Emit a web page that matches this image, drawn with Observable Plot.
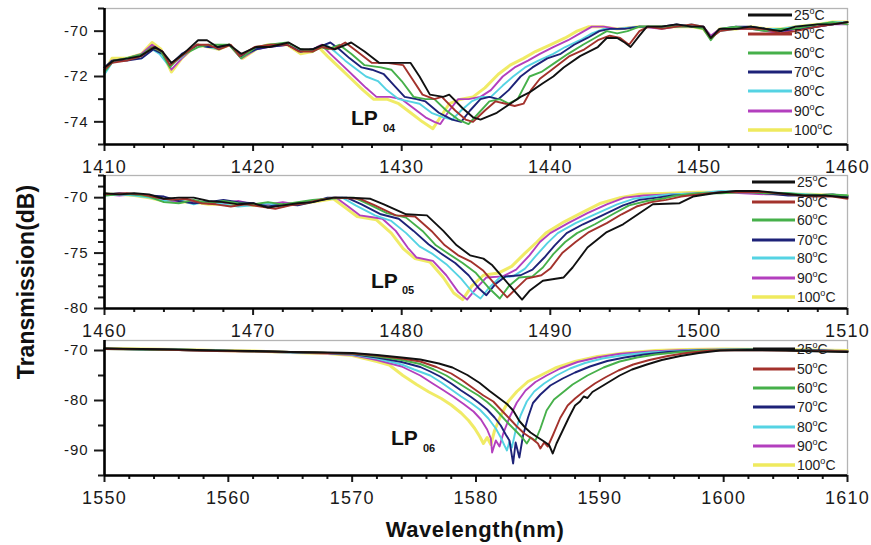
<!DOCTYPE html>
<html>
<head>
<meta charset="utf-8">
<script src="https://cdn.jsdelivr.net/npm/d3@7"></script>
<script src="https://cdn.jsdelivr.net/npm/@observablehq/plot@0.6"></script>
<style>
  html, body { margin: 0; padding: 0; background: #fff; }
  #chart { position: relative; width: 871px; height: 545px; background: #fff; overflow: hidden; font-family: "Liberation Sans", Arial, sans-serif; }
  #chart > svg { position: absolute; left: 0; }
  g[aria-label="x-axis tick label"] text { letter-spacing: 1.2px; }
  g[aria-label="y-axis tick label"] text { letter-spacing: 0.9px; }
</style>
</head>
<body>
<div id="chart"></div>
<script>
// ---------- series labels & colours ----------
const temps = ["25", "50", "60", "70", "80", "90", "100"];
const colors = ["#111111", "#a3322c", "#46b04a", "#1d2278", "#55d3e3", "#b33fbe", "#efea5e"];

// ---------- LP04 panel (1410–1460 nm) ----------
const p1_25 = [[1410,-71.6],[1410.6,-71.3],[1411.6,-71.2],[1412.4,-71.1],[1413.4,-70.7],[1413.9,-70.9],[1414.5,-71.4],[1415.3,-71.0],[1416.3,-70.4],[1416.9,-70.4],[1417.6,-70.7],[1418.4,-70.6],[1419.2,-71.0],[1420.2,-70.7],[1421.1,-70.7],[1422.4,-70.5],[1423.2,-70.8],[1424.0,-70.8],[1424.7,-70.6],[1425.5,-70.8],[1426.6,-70.5],[1427.5,-70.9],[1428.5,-71.4],[1429.6,-71.4],[1430.6,-71.4],[1431.2,-72.0],[1431.9,-72.8],[1432.8,-72.9],[1433.2,-72.8],[1434.1,-73.4],[1434.8,-73.8],[1435.3,-73.9],[1436.4,-73.6],[1437.3,-73.2],[1438.0,-72.9],[1438.6,-72.7],[1439.5,-72.3],[1440.2,-72.0],[1440.9,-71.6],[1442.0,-71.1],[1443.2,-70.7],[1443.8,-70.3],[1444.5,-70.3],[1445.0,-70.5],[1445.4,-70.7],[1446.0,-70.2],[1446.5,-69.8],[1447.5,-69.8],[1448.5,-69.7],[1449.5,-69.8],[1450.3,-69.8],[1450.8,-70.3],[1451.4,-69.9],[1452.5,-69.9],[1453.5,-69.8],[1454.5,-69.9],[1455.5,-70.0],[1456.5,-69.8],[1458,-69.7],[1459,-69.7],[1460,-69.6]];
const p1_50 = [[1410,-71.7],[1410.5,-71.4],[1411.5,-71.3],[1412.5,-71.1],[1413.3,-70.7],[1413.9,-70.9],[1414.4,-71.5],[1415.2,-71.1],[1416.2,-70.6],[1417,-70.6],[1417.7,-70.8],[1418.5,-70.6],[1419.1,-71.1],[1420.1,-70.7],[1421.2,-70.6],[1422.3,-70.6],[1423.1,-70.9],[1424.0,-70.9],[1424.6,-70.7],[1425.4,-70.8],[1426.2,-70.5],[1427.0,-70.9],[1428.0,-71.4],[1429.0,-71.4],[1430.1,-71.5],[1430.7,-72.1],[1431.4,-72.8],[1432.2,-73.0],[1432.7,-72.9],[1433.6,-73.5],[1434.3,-73.9],[1434.8,-74.0],[1435.6,-73.5],[1436.3,-73.1],[1437.0,-73.2],[1437.6,-73.3],[1438.2,-73.2],[1438.7,-72.6],[1439.3,-72.1],[1440.1,-71.7],[1441.3,-71.1],[1442.3,-70.8],[1443.2,-70.4],[1444.0,-70.2],[1444.7,-70.3],[1445.3,-70.6],[1446.0,-70.0],[1446.6,-69.8],[1447.5,-69.9],[1448.5,-69.8],[1449.5,-69.7],[1450.3,-69.8],[1450.8,-70.3],[1451.4,-70.0],[1452.5,-69.9],[1453.5,-69.9],[1454.5,-69.9],[1455.5,-70.1],[1456.5,-70.0],[1458,-69.8],[1459,-69.7],[1460,-69.6]];
const p1_60 = [[1410,-71.8],[1410.6,-71.3],[1411.4,-71.2],[1412.6,-71.0],[1413.2,-70.7],[1413.8,-70.9],[1414.4,-71.6],[1415.1,-71.1],[1416.3,-70.7],[1417,-70.6],[1417.6,-70.6],[1418.4,-70.6],[1419.2,-71.2],[1420.2,-70.7],[1421.1,-70.6],[1422.3,-70.5],[1423.2,-70.8],[1424.0,-70.9],[1424.6,-70.7],[1425.0,-70.8],[1425.8,-70.6],[1426.6,-71.0],[1427.5,-71.5],[1428.6,-71.6],[1429.3,-71.7],[1430.0,-72.2],[1430.8,-72.9],[1431.6,-73.0],[1432.2,-73.0],[1433.0,-73.5],[1433.8,-73.9],[1434.5,-74.1],[1435.2,-73.6],[1435.9,-73.1],[1436.6,-73.0],[1437.2,-73.2],[1437.8,-73.0],[1438.6,-72.0],[1439.4,-71.8],[1440.3,-71.4],[1441.2,-71.0],[1442.2,-70.6],[1443.0,-70.3],[1443.8,-70.0],[1444.5,-70.1],[1445.2,-70.0],[1446.0,-69.8],[1447.5,-69.8],[1448.5,-69.8],[1449.5,-69.8],[1450.3,-69.9],[1450.8,-70.4],[1451.4,-69.9],[1452.5,-69.8],[1453.5,-69.9],[1454.5,-70.0],[1455.5,-69.9],[1456.5,-69.9],[1458,-69.7],[1459,-69.6],[1460,-69.7]];
const p1_70 = [[1410,-71.6],[1410.5,-71.3],[1411.5,-71.3],[1412.5,-71.2],[1413.3,-70.8],[1413.9,-71.0],[1414.4,-71.5],[1415.2,-71.0],[1416.3,-70.6],[1417,-70.7],[1417.7,-70.7],[1418.4,-70.6],[1419.2,-71.1],[1420.2,-70.8],[1421,-70.7],[1422.3,-70.6],[1423.2,-70.9],[1424.0,-70.8],[1424.8,-70.6],[1425.2,-70.5],[1425.8,-70.8],[1426.5,-71.2],[1427.3,-71.6],[1428.0,-71.7],[1428.8,-71.9],[1429.5,-72.4],[1430.2,-72.9],[1431.0,-73.0],[1431.6,-73.1],[1432.5,-73.6],[1433.4,-73.9],[1434.0,-74.0],[1434.6,-73.5],[1435.3,-73.0],[1435.9,-72.9],[1436.5,-73.0],[1437.2,-72.6],[1438.0,-72.0],[1438.8,-71.6],[1439.8,-71.2],[1440.7,-71.0],[1441.6,-70.6],[1442.5,-70.3],[1443.3,-70.0],[1444.0,-69.9],[1445.0,-69.9],[1446.0,-69.8],[1447.5,-69.8],[1448.5,-69.7],[1449.5,-69.8],[1450.3,-69.8],[1450.8,-70.3],[1451.4,-69.9],[1452.5,-69.8],[1453.5,-69.8],[1454.5,-69.9],[1455.5,-70.0],[1456.5,-69.9],[1458,-69.8],[1459,-69.7],[1460,-69.6]];
const p1_80 = [[1410,-71.9],[1410.5,-71.4],[1411.5,-71.2],[1412.5,-71.2],[1413.2,-70.8],[1413.7,-71.0],[1414.3,-71.5],[1415.1,-71.2],[1416.2,-70.6],[1417,-70.7],[1417.7,-70.8],[1418.4,-70.6],[1419.2,-71.1],[1420.2,-70.8],[1421,-70.6],[1422.3,-70.6],[1423.2,-70.9],[1424.0,-70.8],[1424.9,-70.6],[1425.5,-70.9],[1426.2,-71.3],[1427.0,-71.7],[1427.6,-72.0],[1428.4,-72.2],[1429.0,-72.6],[1429.8,-73.0],[1430.5,-73.1],[1431.2,-73.2],[1432.0,-73.6],[1432.8,-73.8],[1433.4,-73.9],[1434.0,-73.5],[1434.7,-73.1],[1435.4,-72.9],[1436.0,-72.9],[1436.8,-72.4],[1437.5,-72.0],[1438.3,-71.6],[1439.2,-71.3],[1440.2,-71.0],[1441.0,-70.7],[1442.0,-70.4],[1442.8,-70.1],[1443.6,-69.9],[1444.5,-69.9],[1446.0,-69.8],[1447.5,-69.8],[1448.5,-69.8],[1449.5,-69.7],[1450.3,-69.8],[1450.8,-70.3],[1451.4,-70.0],[1452.5,-69.9],[1453.5,-69.8],[1454.5,-69.9],[1455.5,-69.9],[1456.5,-69.8],[1458,-69.7],[1459,-69.6],[1460,-69.6]];
const p1_90 = [[1410,-71.7],[1410.5,-71.3],[1411.5,-71.2],[1412.5,-71.0],[1413.2,-70.6],[1413.9,-70.9],[1414.5,-71.7],[1415.2,-71.2],[1416.2,-70.6],[1417,-70.7],[1417.7,-70.7],[1418.4,-70.6],[1419.2,-71.2],[1420.2,-70.8],[1421,-70.7],[1422.3,-70.6],[1423.2,-70.9],[1424.0,-70.8],[1424.6,-70.6],[1425.2,-71.0],[1426.0,-71.5],[1426.8,-72.0],[1427.6,-72.5],[1428.3,-72.9],[1429.2,-72.9],[1430.0,-73.0],[1430.8,-73.4],[1431.6,-73.8],[1432.2,-74.0],[1432.6,-74.1],[1433.2,-73.5],[1433.8,-73.0],[1434.5,-73.0],[1435.3,-72.9],[1436.0,-72.6],[1436.8,-72.0],[1437.6,-71.6],[1438.5,-71.3],[1439.3,-71.0],[1440.2,-70.7],[1441.2,-70.4],[1442.0,-70.1],[1442.8,-69.8],[1443.6,-69.8],[1444.5,-69.9],[1446.0,-69.8],[1447.5,-69.9],[1448.5,-69.8],[1449.5,-69.8],[1450.3,-69.8],[1450.8,-70.2],[1451.4,-69.9],[1452.5,-69.9],[1453.5,-69.9],[1454.5,-70.0],[1455.5,-70.1],[1456.5,-69.9],[1458,-69.8],[1459,-69.7],[1460,-69.7]];
const p1_100 = [[1410,-71.8],[1410.5,-71.2],[1411.5,-71.2],[1412.5,-71.0],[1413.2,-70.5],[1413.8,-70.8],[1414.5,-71.8],[1415.2,-71.2],[1416.2,-70.6],[1417,-70.7],[1417.7,-70.8],[1418.4,-70.6],[1419.3,-71.2],[1420.2,-70.8],[1421,-70.6],[1422.3,-70.6],[1423.2,-71.0],[1424.0,-70.9],[1424.4,-70.7],[1425.0,-71.1],[1425.8,-71.6],[1426.6,-72.1],[1427.4,-72.6],[1428.1,-73.0],[1429.0,-73.0],[1429.8,-73.2],[1430.6,-73.6],[1431.4,-74.0],[1432.1,-74.3],[1432.6,-73.8],[1433.2,-73.2],[1434.0,-73.0],[1434.8,-72.9],[1435.6,-72.5],[1436.5,-71.9],[1437.3,-71.5],[1438.2,-71.2],[1439.0,-70.9],[1440.0,-70.6],[1441.0,-70.3],[1441.8,-70.0],[1442.6,-69.8],[1443.5,-69.8],[1444.5,-69.9],[1446.0,-69.8],[1447.5,-69.8],[1448.5,-69.8],[1449.5,-69.8],[1450.3,-69.9],[1450.8,-70.3],[1451.4,-69.9],[1452.5,-69.9],[1453.5,-69.8],[1454.5,-69.9],[1455.5,-69.9],[1456.5,-69.8],[1458,-69.7],[1459,-69.6],[1460,-69.6]];

// ---------- LP05 panel (1460–1510 nm) ----------
const p2_25 = [[1460,-69.6],[1461,-69.7],[1462,-69.6],[1463,-69.7],[1464,-70.1],[1465,-70.0],[1466,-70.0],[1467,-70.3],[1468,-70.4],[1469,-70.6],[1470,-70.5],[1471,-70.9],[1472,-70.7],[1473,-70.5],[1474,-70.4],[1475.4,-70.0],[1476.5,-70.0],[1477.9,-70.1],[1478.8,-70.6],[1480.3,-71.5],[1481.7,-71.6],[1482.8,-73.0],[1483.7,-74.3],[1484.6,-75.2],[1485.5,-75.5],[1486.1,-76.1],[1486.8,-77.2],[1487.7,-78.6],[1488.1,-79.2],[1488.6,-78.4],[1489.5,-77.5],[1490.9,-77.2],[1491.5,-76.3],[1492.5,-74.5],[1493.8,-73.1],[1494.9,-72.4],[1496,-71.4],[1496.9,-70.6],[1498.7,-70.5],[1499.6,-69.9],[1501,-69.6],[1502.5,-69.4],[1504,-69.4],[1505.5,-69.6],[1507,-69.8],[1508.5,-69.8],[1510,-70.0]];
const p2_50 = [[1460,-69.7],[1461.5,-69.6],[1462.5,-69.7],[1463.5,-70.0],[1464.5,-70.2],[1465.5,-70.1],[1466.5,-70.5],[1467.5,-70.6],[1468.5,-70.8],[1469.5,-70.6],[1470.5,-70.8],[1471.5,-71.0],[1472.5,-70.7],[1473.5,-70.5],[1474.5,-70.2],[1475.5,-70.0],[1477.2,-70.1],[1478.2,-70.7],[1479.6,-71.6],[1480.9,-71.7],[1482.0,-73.0],[1482.9,-74.3],[1483.8,-75.2],[1484.7,-75.8],[1485.5,-76.6],[1486.4,-78.0],[1487.1,-79.0],[1487.7,-78.2],[1488.4,-77.3],[1489.4,-77.0],[1490.0,-76.4],[1490.8,-75.0],[1491.7,-74.0],[1492.6,-73.1],[1493.8,-72.3],[1494.8,-71.5],[1495.8,-70.8],[1496.8,-70.4],[1497.8,-70.2],[1498.8,-69.9],[1500,-69.7],[1501.5,-69.5],[1503,-69.5],[1504.5,-69.5],[1506,-69.7],[1507.5,-69.9],[1509,-69.9],[1510,-70.1]];
const p2_60 = [[1460,-69.8],[1461,-69.7],[1462,-69.7],[1463,-69.9],[1464,-70.4],[1465,-70.5],[1466,-70.2],[1467,-70.5],[1468,-70.3],[1469,-70.5],[1470,-70.6],[1471,-70.4],[1472,-70.6],[1473,-70.4],[1474,-70.2],[1475,-70.1],[1476.8,-70.0],[1477.8,-70.6],[1479.0,-71.4],[1480.3,-71.8],[1481.4,-73.0],[1482.3,-74.3],[1483.2,-75.1],[1484.1,-75.9],[1485.0,-76.8],[1485.9,-78.2],[1486.6,-79.1],[1487.2,-78.0],[1487.9,-77.2],[1488.8,-77.1],[1489.5,-76.3],[1490.2,-75.1],[1491.0,-74.0],[1491.8,-73.2],[1493.0,-72.4],[1494.2,-71.5],[1495.3,-70.7],[1496.5,-70.3],[1497.5,-70.1],[1498.5,-69.8],[1500,-69.6],[1501.5,-69.6],[1503,-69.5],[1504.5,-69.6],[1506,-69.6],[1507.5,-69.8],[1509,-69.7],[1510,-69.8]];
const p2_70 = [[1460,-69.7],[1461,-69.6],[1462,-69.7],[1463,-69.8],[1464,-69.9],[1465,-70.3],[1466,-70.5],[1467,-70.4],[1468,-70.2],[1469,-70.4],[1470,-70.5],[1471,-70.8],[1472,-70.6],[1473,-70.7],[1474,-70.4],[1475,-70.0],[1476.3,-70.0],[1477.3,-70.6],[1478.6,-71.5],[1479.8,-71.9],[1480.8,-73.0],[1481.8,-74.2],[1482.6,-75.0],[1483.6,-75.9],[1484.5,-77.0],[1485.2,-78.2],[1485.7,-78.8],[1486.3,-77.8],[1487.0,-77.1],[1488.0,-77.0],[1488.8,-76.5],[1489.6,-75.4],[1490.3,-74.3],[1491.1,-73.2],[1492.2,-72.4],[1493.5,-71.6],[1494.9,-70.7],[1496.0,-70.2],[1497.2,-70.0],[1498.2,-69.8],[1500,-69.7],[1501.5,-69.5],[1503,-69.4],[1504.5,-69.6],[1506,-69.8],[1507.5,-69.8],[1509,-69.7],[1510,-69.9]];
const p2_80 = [[1460,-69.8],[1461,-69.7],[1462,-69.8],[1463,-70.0],[1464,-70.3],[1465,-70.2],[1466,-70.6],[1467,-70.3],[1468,-70.6],[1469,-70.8],[1470,-70.7],[1471,-70.5],[1472,-70.8],[1473,-70.5],[1474,-70.3],[1475,-70.1],[1476.0,-70.0],[1476.9,-70.7],[1478.2,-71.6],[1479.3,-72.1],[1480.3,-73.2],[1481.2,-74.4],[1482.1,-75.1],[1483.0,-76.0],[1484.0,-77.3],[1484.8,-78.6],[1485.3,-79.1],[1485.9,-78.1],[1486.6,-77.2],[1487.5,-77.1],[1488.3,-76.4],[1489.0,-75.3],[1489.8,-74.1],[1490.5,-73.2],[1491.7,-72.3],[1493.0,-71.5],[1494.5,-70.6],[1495.6,-70.1],[1496.8,-69.9],[1498,-69.7],[1500,-69.6],[1501.5,-69.4],[1503,-69.5],[1504.5,-69.5],[1506,-69.6],[1507.5,-69.7],[1509,-69.8],[1510,-69.8]];
const p2_90 = [[1460,-69.7],[1461,-69.8],[1462,-69.7],[1463,-69.9],[1464,-70.2],[1465,-70.4],[1466,-70.3],[1467,-70.5],[1468,-70.5],[1469,-70.3],[1470,-70.6],[1471,-70.6],[1472,-70.4],[1473,-70.6],[1474,-70.3],[1475,-70.1],[1475.6,-70.0],[1476.4,-70.8],[1477.2,-71.6],[1478.7,-71.9],[1479.6,-73.0],[1480.4,-74.5],[1481.0,-75.4],[1482.1,-75.7],[1483.0,-77.0],[1483.8,-78.5],[1484.4,-79.2],[1485.0,-78.2],[1485.7,-77.2],[1486.8,-77.1],[1487.7,-76.5],[1488.6,-75.2],[1489.3,-74.0],[1490.0,-73.2],[1491.2,-72.3],[1492.5,-71.4],[1493.8,-70.6],[1495.0,-70.0],[1496.3,-69.8],[1498,-69.7],[1500,-69.6],[1501.5,-69.5],[1503,-69.6],[1504.5,-69.7],[1506,-69.7],[1507.5,-69.8],[1509,-69.8],[1510,-69.9]];
const p2_100 = [[1460,-69.7],[1461,-69.7],[1462,-69.8],[1463,-70.0],[1464,-70.3],[1465,-70.4],[1466,-70.4],[1467,-70.6],[1468,-70.6],[1469,-70.5],[1470,-70.7],[1471,-70.7],[1472,-70.5],[1473,-70.6],[1474,-70.4],[1475,-70.2],[1475.4,-70.1],[1476.2,-70.9],[1477.0,-71.7],[1478.3,-72.0],[1479.3,-73.2],[1480.1,-74.6],[1480.9,-75.5],[1481.9,-75.8],[1482.8,-77.2],[1483.5,-78.6],[1484.1,-79.2],[1484.7,-78.0],[1485.5,-77.0],[1486.5,-76.8],[1487.4,-76.2],[1488.3,-75.0],[1489.1,-74.0],[1489.7,-73.2],[1490.9,-72.2],[1492.2,-71.3],[1493.4,-70.5],[1494.7,-70.0],[1496.0,-69.7],[1498,-69.6],[1500,-69.5],[1501.5,-69.5],[1503,-69.5],[1504.5,-69.6],[1506,-69.7],[1507.5,-69.7],[1509,-69.8],[1510,-69.8]];

// ---------- LP06 panel (1550–1610 nm) ----------
const p3_25 = [[1550,-69.6],[1553,-69.7],[1556,-69.8],[1559,-70.0],[1562,-70.1],[1565,-70.3],[1568,-70.4],[1570,-70.5],[1572,-70.9],[1574,-71.4],[1575.5,-71.8],[1577,-72.6],[1578.1,-73.4],[1579.3,-74.9],[1580.3,-76.5],[1581.1,-78.1],[1581.8,-79.4],[1582.5,-80.7],[1583.0,-82.0],[1583.5,-84.1],[1584.0,-85.5],[1584.4,-86.4],[1585.0,-87.4],[1585.5,-88.2],[1585.9,-88.9],[1586.2,-90.6],[1586.5,-88.6],[1587.0,-86.0],[1587.5,-83.4],[1588.0,-81.0],[1588.4,-80.2],[1588.7,-79.2],[1589.0,-79.5],[1589.4,-78.3],[1590.0,-77.4],[1590.8,-76.2],[1591.6,-75.0],[1592.6,-73.8],[1593.8,-72.8],[1595,-71.9],[1596.5,-71.1],[1598,-70.5],[1599.7,-70.0],[1602,-69.9],[1605,-70.0],[1608,-70.2],[1610,-70.3]];
const p3_50 = [[1550,-69.7],[1553,-69.7],[1556,-69.9],[1559,-70.1],[1562,-70.2],[1565,-70.3],[1568,-70.5],[1570,-70.6],[1572,-71.0],[1574,-71.6],[1575.5,-72.2],[1576.8,-73.3],[1578.0,-74.6],[1578.9,-76.0],[1579.8,-77.6],[1580.6,-79.0],[1581.4,-80.2],[1582.0,-81.8],[1582.7,-83.6],[1583.3,-85.2],[1583.9,-86.6],[1584.5,-87.6],[1585.0,-88.6],[1585.2,-89.6],[1585.5,-88.4],[1585.8,-89.2],[1586.2,-87.0],[1586.8,-83.5],[1587.4,-81.0],[1588.0,-79.6],[1588.8,-78.0],[1589.6,-76.6],[1590.5,-75.3],[1591.5,-74.0],[1592.7,-72.8],[1594.0,-71.9],[1595.5,-71.1],[1597,-70.5],[1599,-70.0],[1602,-69.9],[1605,-70.0],[1608,-70.1],[1610,-70.2]];
const p3_60 = [[1550,-69.7],[1553,-69.8],[1556,-69.9],[1559,-70.0],[1562,-70.2],[1565,-70.3],[1568,-70.5],[1570,-70.6],[1572,-71.2],[1574,-71.9],[1575.5,-72.7],[1576.6,-73.8],[1577.6,-75.0],[1578.5,-76.4],[1579.4,-77.8],[1580.2,-79.0],[1580.9,-80.3],[1581.5,-81.6],[1582.1,-83.2],[1582.7,-84.8],[1583.3,-86.3],[1583.8,-87.6],[1584.1,-88.6],[1584.4,-87.4],[1584.8,-88.0],[1585.2,-85.6],[1585.7,-82.0],[1586.3,-79.8],[1587.0,-78.4],[1587.8,-76.8],[1589.0,-75.0],[1590.3,-73.4],[1591.6,-72.2],[1593,-71.4],[1594.5,-70.8],[1596.5,-70.3],[1599,-69.9],[1602,-69.8],[1605,-69.9],[1608,-70.1],[1610,-70.2]];
const p3_70 = [[1550,-69.6],[1553,-69.8],[1556,-69.9],[1559,-70.1],[1562,-70.1],[1565,-70.3],[1568,-70.5],[1570,-70.7],[1572,-71.4],[1574,-72.3],[1575.5,-73.3],[1576.3,-74.2],[1577.1,-75.2],[1578.0,-76.6],[1578.8,-78.0],[1579.6,-79.3],[1580.2,-80.4],[1580.9,-81.8],[1581.5,-83.4],[1582.0,-85.0],[1582.4,-86.8],[1582.7,-88.0],[1583.0,-92.6],[1583.2,-88.4],[1583.5,-91.4],[1583.8,-87.0],[1584.2,-83.4],[1584.6,-80.5],[1585.2,-78.8],[1586.0,-77.0],[1587.0,-75.6],[1588.0,-74.4],[1589.2,-73.2],[1590.6,-72.1],[1592.0,-71.4],[1593.6,-70.8],[1595.5,-70.3],[1598,-70.0],[1602,-69.8],[1605,-69.9],[1608,-70.0],[1610,-70.2]];
const p3_80 = [[1550,-69.7],[1553,-69.7],[1556,-69.8],[1559,-70.0],[1562,-70.2],[1565,-70.4],[1568,-70.5],[1570,-70.8],[1572,-71.6],[1574,-72.8],[1575.0,-73.8],[1576.3,-75.0],[1577.2,-76.4],[1578.0,-77.8],[1578.8,-79.2],[1579.6,-80.5],[1580.3,-81.8],[1581.0,-83.6],[1581.6,-85.6],[1582.0,-87.4],[1582.3,-89.0],[1582.5,-90.0],[1582.7,-88.2],[1582.9,-89.4],[1583.2,-86.0],[1583.6,-83.0],[1584.1,-80.2],[1584.7,-78.2],[1585.5,-76.6],[1586.5,-75.0],[1587.6,-73.6],[1588.8,-72.5],[1590.2,-71.6],[1592.0,-70.9],[1594,-70.4],[1597,-70.0],[1600,-69.8],[1604,-69.9],[1607,-70.0],[1610,-70.1]];
const p3_90 = [[1550,-69.7],[1553,-69.8],[1556,-69.9],[1559,-70.0],[1562,-70.2],[1565,-70.4],[1568,-70.6],[1570,-70.9],[1572,-71.9],[1574,-73.2],[1575.5,-75.0],[1576.5,-76.6],[1577.4,-78.0],[1578.2,-79.3],[1579.0,-80.7],[1579.8,-82.2],[1580.4,-83.8],[1580.9,-85.8],[1581.2,-87.6],[1581.3,-90.4],[1581.6,-88.0],[1581.9,-89.2],[1582.2,-86.6],[1582.7,-83.4],[1583.3,-80.4],[1584.0,-78.0],[1584.8,-76.3],[1585.7,-75.0],[1586.8,-73.6],[1588.2,-72.3],[1589.8,-71.4],[1591.5,-70.7],[1594,-70.2],[1597,-69.9],[1600,-69.8],[1604,-69.8],[1607,-70.0],[1610,-70.1]];
const p3_100 = [[1550,-69.6],[1553,-69.7],[1556,-69.8],[1559,-70.0],[1562,-70.1],[1565,-70.4],[1568,-70.6],[1570,-71.0],[1572,-72.2],[1573,-72.9],[1574.1,-75.0],[1575.2,-76.8],[1576.2,-78.3],[1577.2,-79.6],[1578.0,-80.9],[1578.8,-82.5],[1579.4,-84.0],[1579.9,-85.6],[1580.3,-87.2],[1580.6,-88.6],[1580.9,-87.4],[1581.2,-88.8],[1581.5,-86.0],[1582.0,-83.0],[1582.6,-80.2],[1583.3,-78.2],[1584.2,-76.2],[1585.2,-75.0],[1586.4,-73.5],[1588.0,-72.2],[1589.8,-71.2],[1592,-70.5],[1594.5,-70.0],[1597,-69.8],[1600,-69.7],[1604,-69.8],[1607,-69.9],[1610,-70.0]];

// ---------- axis ticks ----------
const p1XTicks = [1410, 1420, 1430, 1440, 1450, 1460];
const p1XMinor = [1412, 1414, 1416, 1418, 1422, 1424, 1426, 1428, 1432, 1434, 1436, 1438, 1442, 1444, 1446, 1448, 1452, 1454, 1456, 1458];
const p1YTicks = [-70, -72, -74];
const p1YMinor = [-75, -73, -71, -69];
const p2XTicks = [1460, 1470, 1480, 1490, 1500, 1510];
const p2XMinor = [1462, 1464, 1466, 1468, 1472, 1474, 1476, 1478, 1482, 1484, 1486, 1488, 1492, 1494, 1496, 1498, 1502, 1504, 1506, 1508];
const p2YTicks = [-70, -75, -80];
const p2YMinor = [-79, -78, -77, -76, -74, -73, -72, -71, -69, -68];
const p3XTicks = [1550, 1560, 1570, 1580, 1590, 1600, 1610];
const p3XMinor = [1552, 1554, 1556, 1558, 1562, 1564, 1566, 1568, 1572, 1574, 1576, 1578, 1582, 1584, 1586, 1588, 1592, 1594, 1596, 1598, 1602, 1604, 1606, 1608];
const p3YTicks = [-70, -80, -90];
const p3YMinor = [-75, -85, -95];

const panels = [
  {series: [p1_25, p1_50, p1_60, p1_70, p1_80, p1_90, p1_100], xd: [1410, 1460], yd: [-75, -69],
   xt: p1XTicks, xm: p1XMinor, yt: p1YTicks, ym: p1YMinor, top: 0, h: 180, mt: 8, mb: 36, xPad: 9},
  {series: [p2_25, p2_50, p2_60, p2_70, p2_80, p2_90, p2_100], xd: [1460, 1510], yd: [-80, -68],
   xt: p2XTicks, xm: p2XMinor, yt: p2YTicks, ym: p2YMinor, top: 165, h: 180, mt: 10, mb: 37, xPad: 9},
  {series: [p3_25, p3_50, p3_60, p3_70, p3_80, p3_90, p3_100], xd: [1550, 1610], yd: [-95, -68],
   xt: p3XTicks, xm: p3XMinor, yt: p3YTicks, ym: p3YMinor, top: 330, h: 180, mt: 10, mb: 35, xPad: 9}
];

const chart = document.getElementById("chart");
const fmt = d => String(d);
const drawOrder = [6, 5, 4, 3, 2, 1, 0];

for (const p of panels) {
  const marks = [Plot.frame({stroke: "#b4b4b4", strokeWidth: 1.3})];
  for (const i of drawOrder) {
    marks.push(Plot.line(p.series[i], {
      x: d => d[0], y: d => d[1], stroke: colors[i],
      strokeWidth: i === 6 ? 3 : 1.9, strokeLinejoin: "round", strokeOpacity: i === 6 ? 0.95 : 1
    }));
  }
  marks.push(
    Plot.axisX({ticks: p.xm, tickSize: 4, tickFormat: () => "", strokeWidth: 2, label: null}),
    Plot.axisX({ticks: p.xt, tickSize: 7, tickPadding: p.xPad, tickFormat: fmt, fontSize: 18, strokeWidth: 2, label: null}),
    Plot.axisY({ticks: p.ym, tickSize: 6, tickFormat: () => "", strokeWidth: 2, label: null}),
    Plot.axisY({ticks: p.yt, tickSize: 10, tickPadding: 6, tickFormat: fmt, fontSize: 15, strokeWidth: 2, label: null}),
    Plot.ruleX([p.xd[0]], {stroke: "#000", strokeWidth: 2.6}),
    Plot.ruleY([p.yd[0]], {stroke: "#000", strokeWidth: 2.6})
  );
  const svg = Plot.plot({
    width: 871, height: p.h,
    marginLeft: 104, marginRight: 24, marginTop: p.mt, marginBottom: p.mb,
    x: {domain: p.xd}, y: {domain: p.yd},
    style: {background: "transparent", color: "#1a1a1a", fontFamily: "'Liberation Sans', Arial, sans-serif", overflow: "visible"},
    marks
  });
  svg.style.top = p.top + "px";
  chart.appendChild(svg);
}

// ---------- overlay: titles, mode labels, legends ----------
const ov = d3.select(chart).append("svg")
  .attr("width", 871).attr("height", 545)
  .style("position", "absolute").style("top", "0px").style("left", "0px")
  .style("font-family", "'Liberation Sans', Arial, sans-serif");

ov.append("text").attr("x", 475).attr("y", 537).attr("text-anchor", "middle")
  .attr("font-size", 22).attr("font-weight", "bold").attr("letter-spacing", 0.6).attr("fill", "#111")
  .text("Wavelength(nm)");
ov.append("text").attr("transform", "translate(34,282) rotate(-90)").attr("text-anchor", "middle")
  .attr("font-size", 23).attr("font-weight", "bold").attr("fill", "#111")
  .text("Transmission(dB)");

const modeLabels = [
  {main: "LP", sub: "04", x: 351, y: 125, sx: 383, sy: 132},
  {main: "LP", sub: "05", x: 371, y: 288, sx: 402, sy: 294},
  {main: "LP", sub: "06", x: 391, y: 445, sx: 423, sy: 452}
];
for (const m of modeLabels) {
  ov.append("text").attr("x", m.x).attr("y", m.y).attr("font-size", 21).attr("font-weight", "bold").attr("fill", "#111").text(m.main);
  ov.append("text").attr("x", m.sx).attr("y", m.sy).attr("font-size", 11).attr("font-weight", "bold").attr("fill", "#111").text(m.sub);
}

const legendRows = [
  {x0: 748, x1: 792, tx: 794, ys: [15, 34, 53, 72, 91, 111, 130]},
  {x0: 752, x1: 795, tx: 797, ys: [182, 202, 220, 240, 258, 278, 297]},
  {x0: 753, x1: 795, tx: 797, ys: [349, 369, 388, 407, 427, 446, 465]}
];
for (const L of legendRows) {
  temps.forEach((t, i) => {
    const y = L.ys[i];
    ov.append("line").attr("x1", L.x0).attr("x2", L.x1).attr("y1", y).attr("y2", y)
      .attr("stroke", colors[i]).attr("stroke-width", i === 6 ? 3.5 : 2.8);
    const tx = ov.append("text").attr("x", L.tx).attr("y", y + 5).attr("font-size", 14).attr("fill", "#222");
    tx.append("tspan").text(t);
    tx.append("tspan").attr("dy", -6).attr("font-size", 9).text("o");
    tx.append("tspan").attr("dy", 6).text("C");
  });
}
</script>
</body>
</html>
